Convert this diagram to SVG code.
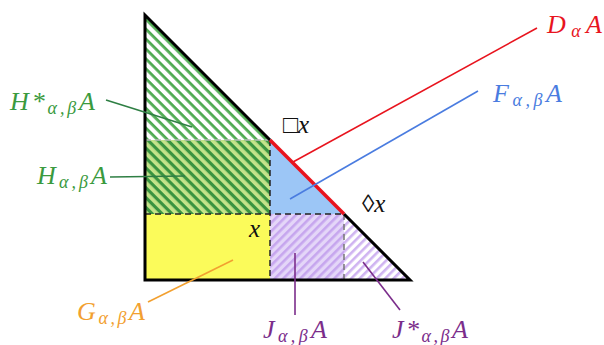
<svg xmlns="http://www.w3.org/2000/svg" width="604" height="345" viewBox="0 0 604 345">
<style>
.lbl{font-family:"Liberation Serif","DejaVu Serif",serif;font-style:italic;font-size:26px}
.sub{font-size:18px}
.mk{font-family:"Liberation Serif","DejaVu Serif",serif;font-size:25px;fill:#111}
.conn{fill:none;stroke-width:1.6}
</style>
<defs>
<pattern id="gh" patternUnits="userSpaceOnUse" width="7" height="7" patternTransform="rotate(45)">
<rect x="0" y="0" width="7" height="2.8" fill="#4fab52"/>
</pattern>
<pattern id="ghd" patternUnits="userSpaceOnUse" width="7" height="7" patternTransform="rotate(45)">
<rect x="0" y="0" width="7" height="3.2" fill="#3a9440"/>
</pattern>
<pattern id="ph" patternUnits="userSpaceOnUse" width="6" height="6" patternTransform="rotate(-45)">
<rect x="0" y="0" width="6" height="2.6" fill="#c6a6ee"/>
</pattern>
</defs>
<rect width="604" height="345" fill="#fff"/>
<g id="regions">
<g id="Hstar">
<polygon points="145,15 270,140 145,140" fill="url(#gh)"/>
</g>
<g id="H">
<rect x="145" y="140" width="125" height="74" fill="#c4e38a"/>
<rect x="145" y="140" width="125" height="74" fill="url(#ghd)"/>
</g>
<g id="F">
<polygon points="270,140 344,214 270,214" fill="#9cc6f6"/>
</g>
<g id="G">
<rect x="145" y="214" width="125" height="66" fill="#fbfb5a"/>
</g>
<g id="J">
<rect x="270" y="214" width="74" height="66" fill="#e4d6f8"/>
<rect x="270" y="214" width="74" height="66" fill="url(#ph)"/>
</g>
<g id="Jstar">
<polygon points="344,214 410,280 344,280" fill="url(#ph)" opacity="0.85"/>
</g>
<line x1="145" y1="140" x2="270" y2="140" stroke="#bbb" stroke-width="1.5" stroke-dasharray="6,4"/>
<line x1="145" y1="214" x2="344" y2="214" stroke="#222" stroke-width="1.5" stroke-dasharray="6,4"/>
<line x1="270" y1="140" x2="270" y2="280" stroke="#222" stroke-width="1.5" stroke-dasharray="6,4"/>
<line x1="344" y1="214" x2="344" y2="280" stroke="#777" stroke-width="1.5" stroke-dasharray="6,4"/>
<polyline points="270,140 145,15 145,280 410,280 344,214" fill="none" stroke="#000" stroke-width="3" stroke-linejoin="miter"/>
<line id="D" x1="270" y1="140" x2="344" y2="214" stroke="#e8141e" stroke-width="3.5"/>
</g>
<g id="connectors">
<line class="conn" x1="106" y1="100" x2="192" y2="127" stroke="#2f7f44"/>
<line class="conn" x1="110" y1="177" x2="185" y2="176" stroke="#2f7f44"/>
<line class="conn" x1="148" y1="302" x2="233" y2="260" stroke="#f2a030"/>
<line class="conn" x1="295" y1="315" x2="295" y2="253" stroke="#7b2d8b"/>
<line class="conn" x1="400" y1="310" x2="363" y2="262" stroke="#7b2d8b"/>
<line class="conn" x1="293" y1="162" x2="537" y2="28" stroke="#e8141e"/>
<line class="conn" x1="290" y1="199" x2="478" y2="91" stroke="#4a7ce0"/>
</g>
<g id="label-Hstar"><text class="lbl" x="10" y="110" fill="#3a9a3e" textLength="85" lengthAdjust="spacing">H*<tspan class="sub" dy="4">α,β</tspan><tspan dy="-4">A</tspan></text></g>
<g id="label-H"><text class="lbl" x="37" y="184" fill="#3a9a3e" textLength="70" lengthAdjust="spacing">H<tspan class="sub" dy="4">α,β</tspan><tspan dy="-4">A</tspan></text></g>
<g id="label-G"><text class="lbl" x="77" y="320" fill="#f2a030" textLength="68" lengthAdjust="spacing">G<tspan class="sub" dy="4">α,β</tspan><tspan dy="-4">A</tspan></text></g>
<g id="label-J"><text class="lbl" x="263" y="338" fill="#7b2d8b" textLength="64" lengthAdjust="spacing">J<tspan class="sub" dy="4">α,β</tspan><tspan dy="-4">A</tspan></text></g>
<g id="label-Jstar"><text class="lbl" x="392" y="338" fill="#7b2d8b" textLength="76" lengthAdjust="spacing">J*<tspan class="sub" dy="4">α,β</tspan><tspan dy="-4">A</tspan></text></g>
<g id="label-D"><text class="lbl" x="547" y="33" fill="#e8141e" textLength="55" lengthAdjust="spacing">D<tspan class="sub" dy="4">α</tspan><tspan dy="-4">A</tspan></text></g>
<g id="label-F"><text class="lbl" x="493" y="102" fill="#4a7ce0" textLength="69" lengthAdjust="spacing">F<tspan class="sub" dy="4">α,β</tspan><tspan dy="-4">A</tspan></text></g>
<g id="label-box"><text class="mk" x="283" y="133">□<tspan font-style="italic">x</tspan></text></g>
<g id="label-dia"><text class="mk" x="362" y="212">◊<tspan font-style="italic">x</tspan></text></g>
<g id="label-x"><text class="mk" x="249" y="237" font-style="italic">x</text></g>
</svg>
